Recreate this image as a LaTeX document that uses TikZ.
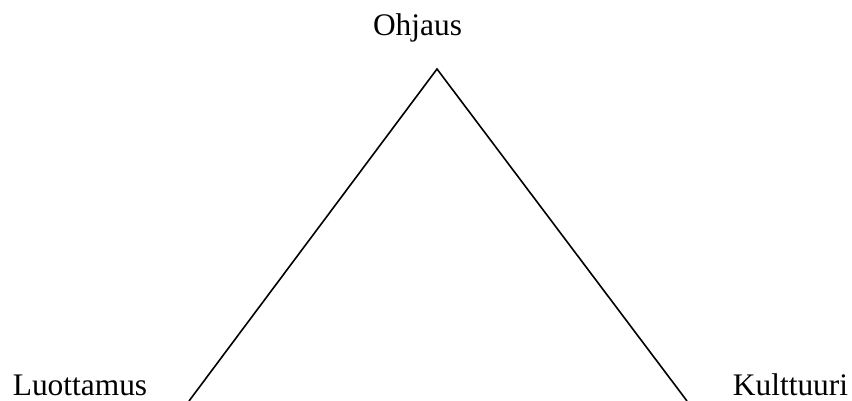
\documentclass[tikz,border=0pt]{standalone}
\usepackage{fontspec}
\setmainfont{Liberation Serif}
\begin{document}
\begin{tikzpicture}[x=1pt,y=-1pt,
  lbl/.style={inner sep=0pt,anchor=base,font=\fontsize{31.4}{36}\selectfont},
  edge/.style={line width=1.6pt,line join=miter}]
\useasboundingbox (0,0) rectangle (852,400);
\node[lbl] (ohj) at (417.5,35) {Ohjaus};
\node[lbl] (luo) at (80,395) {Luottamus};
\node[lbl] (kul) at (790.5,395) {Kulttuuri};
\coordinate (top) at (437,69);
\coordinate (bl) at (189,401);
\coordinate (br) at (687,401);
\draw[edge] (bl) -- (top) -- (br);
\end{tikzpicture}
\end{document}
